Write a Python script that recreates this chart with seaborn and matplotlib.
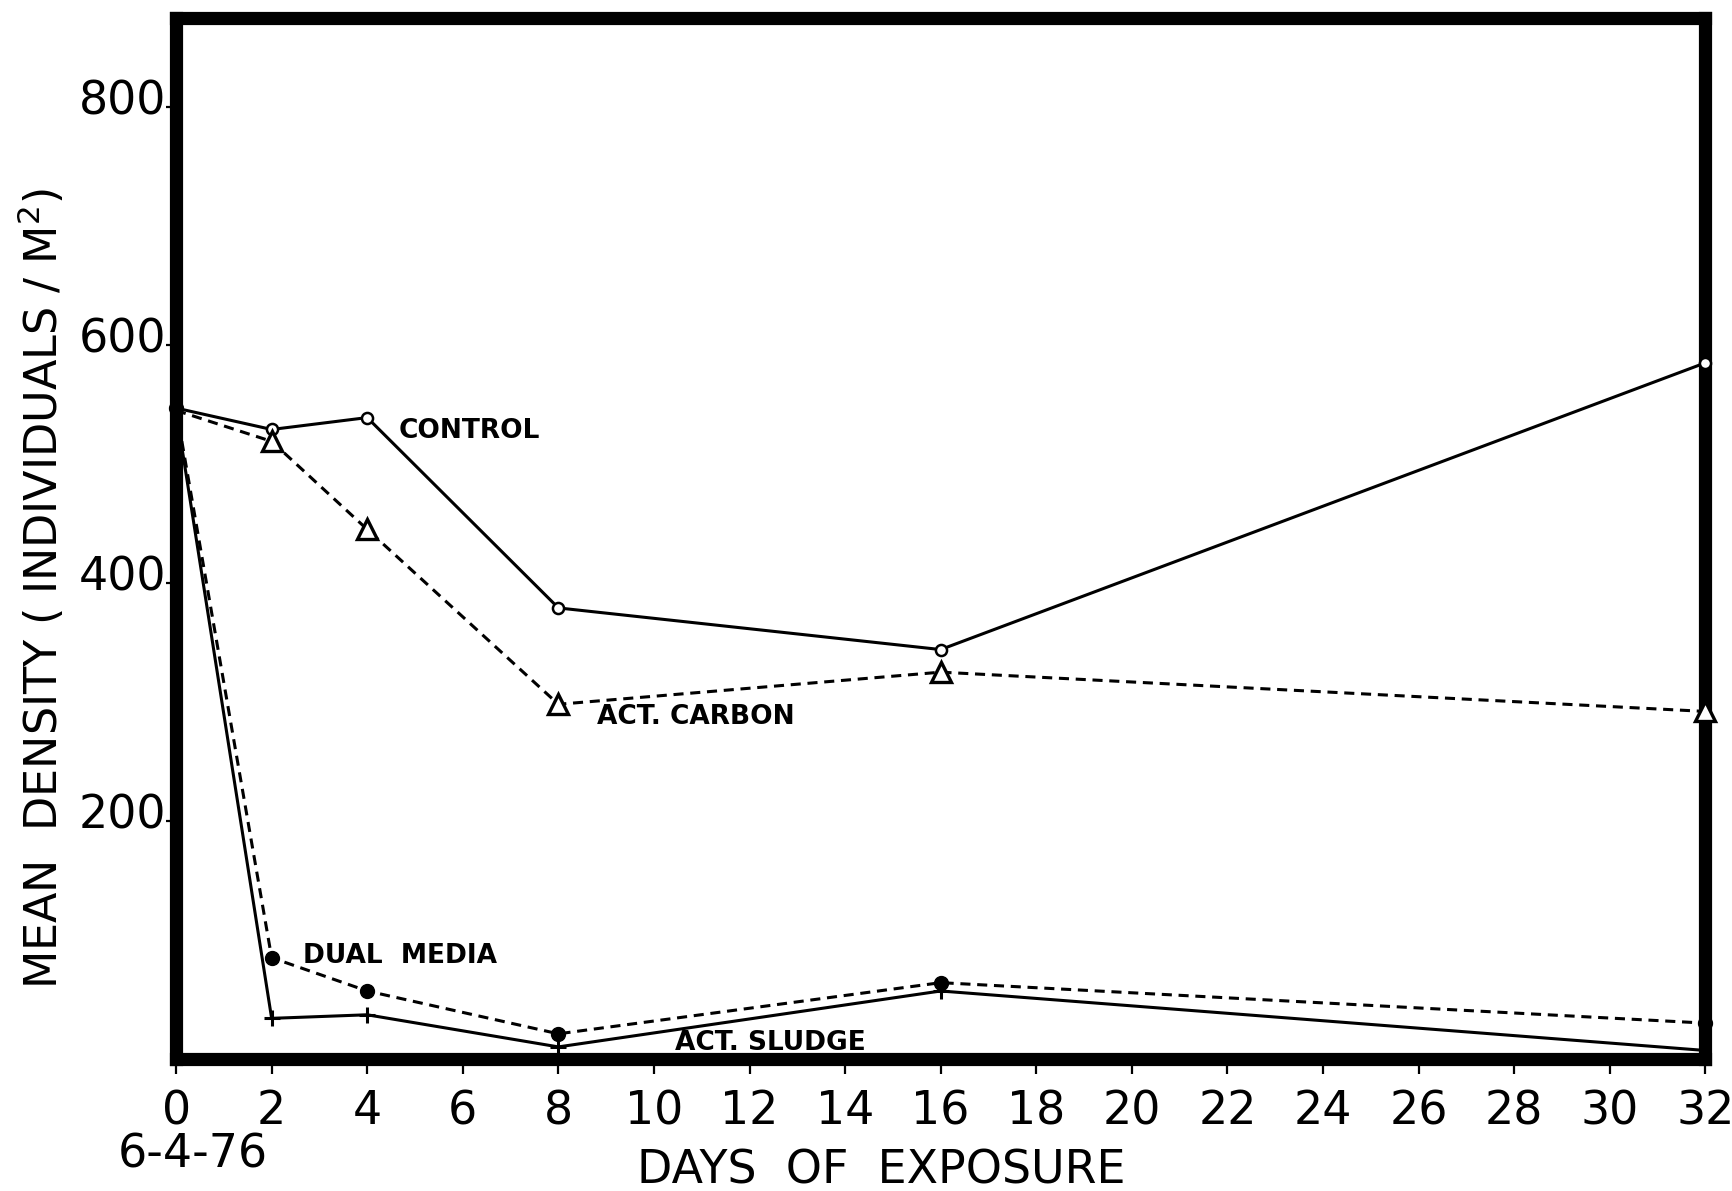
import matplotlib
matplotlib.use("Agg")
import matplotlib.pyplot as plt
import matplotlib.transforms as mtransforms
import seaborn as sns

# Sampling days and mean densities (individuals per square metre)
days = [0, 2, 4, 8, 16, 32]
control = [547, 529, 539, 379, 344, 585]
act_carbon = [545, 519, 445, 298, 325, 292]
dual_media = [547, 85, 57, 21, 64, 30]
act_sludge = [545, 34, 37, 10, 57, 7]

x_ticks = list(range(0, 33, 2))
y_ticks = [200, 400, 600, 800]

series_labels = ["CONTROL", "ACT. CARBON", "DUAL  MEDIA", "ACT. SLUDGE"]
label_pos = [(4.65, 528), (8.8, 287), (2.65, 86), (10.45, 13)]

sns.set_theme(style="white")
plt.rcParams["font.family"] = ["DejaVu Sans"]
plt.rcParams.update({
    "text.color": "black",
    "axes.labelcolor": "black",
    "xtick.color": "black",
    "ytick.color": "black",
})

fig = plt.figure(figsize=(17.33, 11.91), dpi=100)
ax = fig.add_axes([0.1016, 0.111, 0.8824, 0.874])

dash = (0, (3.3, 2.2))
styles = [
    dict(data=control, linestyle="-", marker="o", markersize=8,
         markerfacecolor="white", markeredgewidth=1.8,
         markevery=slice(1, None)),
    dict(data=act_carbon, linestyle=dash, marker="^", markersize=15,
         markerfacecolor="white", markeredgewidth=2.4,
         markevery=slice(1, None)),
    dict(data=dual_media, linestyle=dash, marker="o", markersize=10,
         markerfacecolor="black", markeredgewidth=1),
    dict(data=act_sludge, linestyle="-", marker="+", markersize=11,
         markerfacecolor="black", markeredgewidth=2.2,
         markevery=slice(1, 5)),
]

for st in styles:
    vals = st.pop("data")
    sns.lineplot(x=days, y=vals, ax=ax, color="black", linewidth=2.2,
                 markeredgecolor="black", clip_on=False, zorder=5, **st)

for text, (tx, ty) in zip(series_labels, label_pos):
    ax.text(tx, ty, text, fontsize=19, fontweight="bold", color="black",
            ha="left", va="center", zorder=6)

ax.set_xlim(0, 32)
ax.set_ylim(0, 875)
ax.set_xticks(x_ticks)
ax.set_yticks(y_ticks)
ax.set_xticklabels([str(t) for t in x_ticks])
ax.set_yticklabels([str(t) for t in y_ticks])

for side in ["left", "right", "top", "bottom"]:
    ax.spines[side].set_visible(True)
    ax.spines[side].set_linewidth(9.5)
    ax.spines[side].set_color("black")
    ax.spines[side].set_zorder(4)

ax.tick_params(axis="x", direction="out", length=11, width=1.6,
               color="black", labelcolor="black", labelsize=33, pad=11,
               bottom=True)
ax.tick_params(axis="y", direction="out", length=7, width=1.6,
               color="black", labelcolor="black", labelsize=33, pad=0,
               left=True)

# lift the value labels slightly above their tick marks
shift = mtransforms.ScaledTranslation(0, 0.10, fig.dpi_scale_trans)
for lab in ax.get_yticklabels():
    lab.set_transform(lab.get_transform() + shift)

ax.set_xlabel("DAYS  OF  EXPOSURE", fontsize=33, color="black")
ax.xaxis.set_label_coords(0.461, -0.108)
ax.xaxis.label.set_va("center")

ax.set_ylabel("MEAN  DENSITY ( INDIVIDUALS / M$^{2}$)", fontsize=32,
              color="black")
ax.yaxis.set_label_coords(-0.088, 0.452)
ax.yaxis.label.set_va("center")

ax.text(0.36, -81, "6-4-76", fontsize=33, ha="center", va="center",
        color="black", clip_on=False)

ax.grid(False)
fig.savefig("out.png", dpi=100, facecolor="white")
